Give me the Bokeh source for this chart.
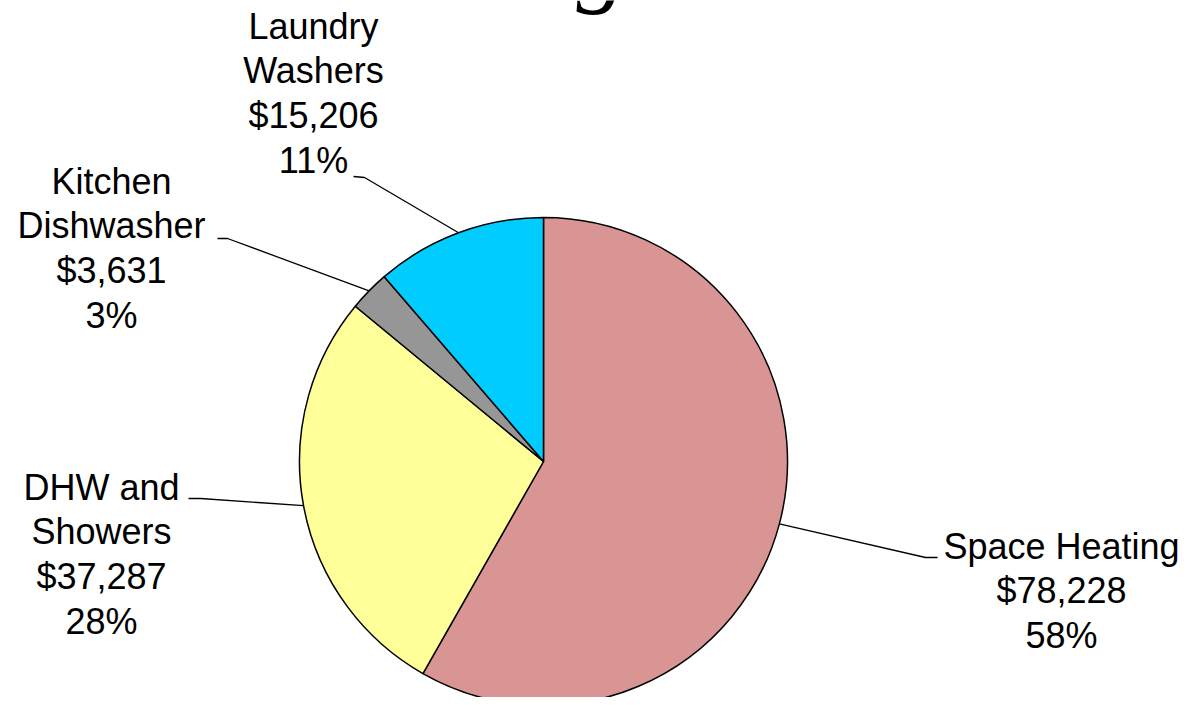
import math
from bokeh.plotting import figure
from bokeh.models import Range1d, ColumnDataSource
from bokeh.embed import file_html
from bokeh.resources import INLINE
from bokeh.core.properties import value

# ---- data ----
categories = ["Space Heating", "DHW and\nShowers", "Kitchen\nDishwasher", "Laundry\nWashers"]
savings = [78228, 37287, 3631, 15206]
percents = [58, 28, 3, 11]
colors = ["#D99594", "#FFFF99", "#969696", "#00CCFF"]

# ---- layout (pixel coordinates of the picture, y downward) ----
W, H = 1183, 697
CX, CY, R = 543, 461, 244
label_x = [1061, 101, 111, 313]
label_top = [525, 466, 160, 5]
elbow = [(925, 557), (200, 498), (227, 238), (364, 177)]
tail = [(937, 557), (188, 498), (217, 238), (353, 176)]

p = figure(width=W, height=H, x_range=Range1d(0, W), y_range=Range1d(-H, 0),
           output_backend="svg", toolbar_location=None, min_border=0)
p.axis.visible = False
p.grid.visible = False
p.outline_line_color = None
p.background_fill_color = "white"
p.border_fill_color = "white"

total = sum(savings)
starts, ends, mids = [], [], []
cum = 0.0
for v in savings:
    a0 = math.pi / 2 - 2 * math.pi * cum / total
    cum += v
    a1 = math.pi / 2 - 2 * math.pi * cum / total
    starts.append(a0)
    ends.append(a1)
    mids.append((a0 + a1) / 2)

src = ColumnDataSource(dict(start=starts, end=ends, color=colors,
                            x=[CX] * len(savings), y=[-CY] * len(savings)))
p.wedge(x="x", y="y", radius=R, start_angle="start", end_angle="end", direction="clock",
        fill_color="color", line_color="black", line_width=1.5, source=src)

xs, ys = [], []
for m, e, t in zip(mids, elbow, tail):
    px = CX + R * math.cos(m)
    py = CY - R * math.sin(m)
    xs.append([px, e[0], t[0]])
    ys.append([-py, -e[1], -t[1]])
p.multi_line(xs=xs, ys=ys, line_color="black", line_width=1.3)

texts = [f"{c}\n${v:,}\n{pc}%" for c, v, pc in zip(categories, savings, percents)]
p.text(x=label_x, y=[-t for t in label_top], text=texts, text_align="center",
       text_baseline="top", text_font=value("Liberation Sans"), text_font_size="36px",
       text_line_height=1.094, text_color="black")

# clipped title fragment at the top edge
p.text(x=[601], y=[40], text=["g"], text_align="center", text_baseline="alphabetic",
       text_font=value("Liberation Serif"), text_font_style="italic",
       text_font_size="100px", text_color="black")

open("out.html", "w").write(file_html(p, INLINE))
